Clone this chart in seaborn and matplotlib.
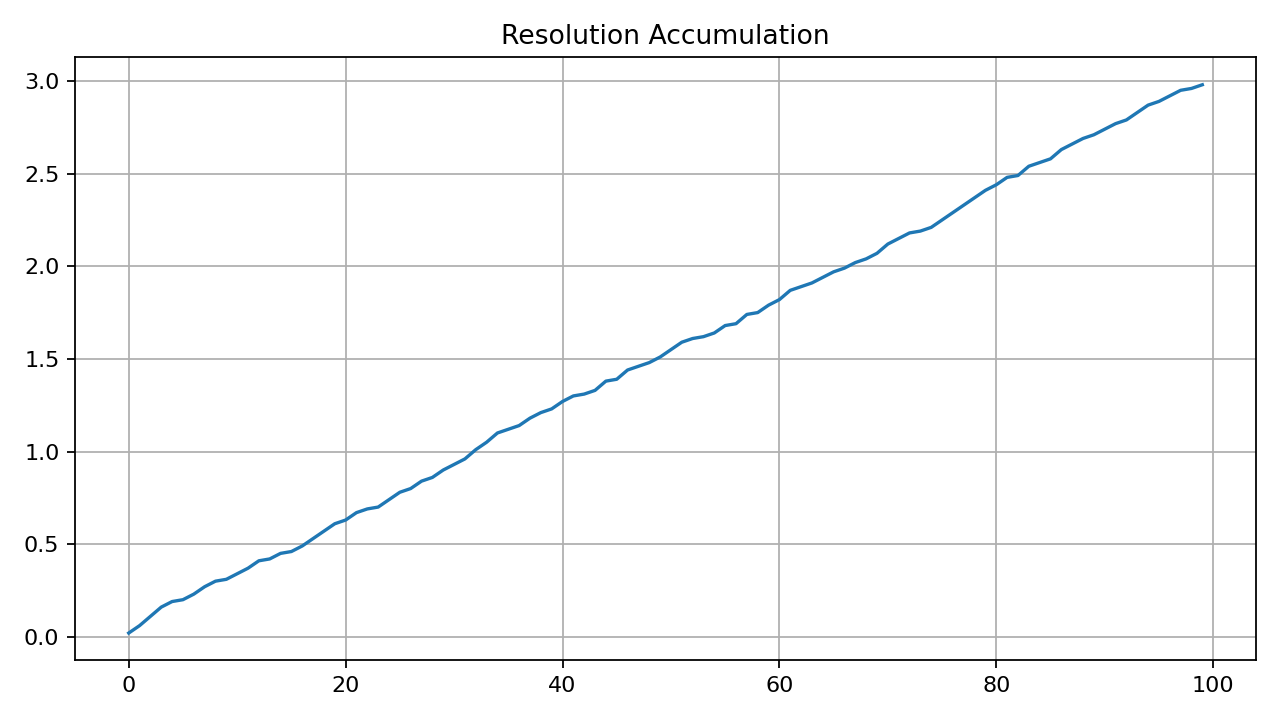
import matplotlib
matplotlib.use("Agg")
import matplotlib.pyplot as plt
import seaborn as sns
import numpy as np

steps = list(range(100))
values = [0.02,0.06,0.11,0.16,0.19,0.20,0.23,0.27,0.30,0.31,
          0.34,0.37,0.41,0.42,0.45,0.46,0.49,0.53,0.57,0.61,
          0.63,0.67,0.69,0.70,0.74,0.78,0.80,0.84,0.86,0.90,
          0.93,0.96,1.01,1.05,1.10,1.12,1.14,1.18,1.21,1.23,
          1.27,1.30,1.31,1.33,1.38,1.39,1.44,1.46,1.48,1.51,
          1.55,1.59,1.61,1.62,1.64,1.68,1.69,1.74,1.75,1.79,
          1.82,1.87,1.89,1.91,1.94,1.97,1.99,2.02,2.04,2.07,
          2.12,2.15,2.18,2.19,2.21,2.25,2.29,2.33,2.37,2.41,
          2.44,2.48,2.49,2.54,2.56,2.58,2.63,2.66,2.69,2.71,
          2.74,2.77,2.79,2.83,2.87,2.89,2.92,2.95,2.96,2.98]

fig, ax = plt.subplots(figsize=(8, 4.5), dpi=160)
sns.lineplot(x=steps, y=values, ax=ax, color="#1f77b4", linewidth=1.5)
ax.set_title("Resolution Accumulation")
ax.grid(True, color="#b0b0b0", linewidth=0.8)
ax.set_axisbelow(True)
fig.tight_layout()
fig.savefig("out.png", dpi=160)
